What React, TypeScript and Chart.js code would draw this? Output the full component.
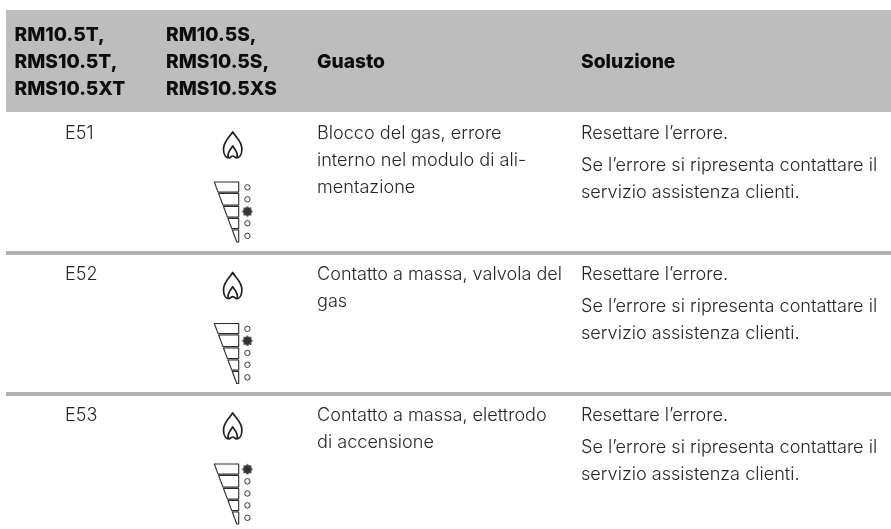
import React, { useEffect, useRef } from "react";
import { Chart, registerables } from "chart.js";

Chart.register(...registerables);

const headerColumns = [
  ["RM10.5T,", "RMS10.5T,", "RMS10.5XT"],
  ["RM10.5S,", "RMS10.5S,", "RMS10.5XS"],
  ["Guasto"],
  ["Soluzione"],
];
const codes = ["E51", "E52", "E53"];
const faults = [
  ["Blocco del gas, errore", "interno nel modulo di ali-", "mentazione"],
  ["Contatto a massa, valvola del", "gas"],
  ["Contatto a massa, elettrodo", "di accensione"],
];
const solutionFirst = ["Resettare l\u2019errore.", "Resettare l\u2019errore.", "Resettare l\u2019errore."];
const solutionRest = [
  ["Se l\u2019errore si ripresenta contattare il", "servizio assistenza clienti."],
  ["Se l\u2019errore si ripresenta contattare il", "servizio assistenza clienti."],
  ["Se l\u2019errore si ripresenta contattare il", "servizio assistenza clienti."],
];
// index of the lit LED in each row, 0 = top of the wedge
const litLevel = [2, 1, 0];
const ledLevels = [0, 1, 2, 3, 4];

// layout, in page pixels
const W = 891;
const H = 529;
const colX = [14.5, 166, 317, 581];
const codeX = 65;
const rowBase = [139, 280, 421];
const flameTop = [131, 271.7, 412];
const wedgeTop = [182, 323.5, 464];
const rules = [[251, 255], [392, 396]];
const headerBand = [10, 112];
const ledOffsets = [5.3, 17.3, 29.5, 41.3, 53.8];
const wedgeOffsets = [0, 11.5, 24.5, 36.5, 48, 60];
const BODY = '300 18.1px Inter, sans-serif';
const HEAD = '800 19.2px Inter, sans-serif';

function makeBurst(): HTMLCanvasElement {
  const c = document.createElement("canvas");
  c.width = 12;
  c.height = 12;
  const g = c.getContext("2d")!;
  g.fillStyle = "#333";
  g.beginPath();
  for (let i = 0; i < 16; i++) {
    const r = i % 2 === 0 ? 5.6 : 4.0;
    const a = (i * Math.PI) / 8;
    g.lineTo(6 + r * Math.cos(a), 6 + r * Math.sin(a));
  }
  g.closePath();
  g.fill();
  return c;
}

const tablePlugin = {
  id: "table",
  beforeDatasetsDraw(chart: any) {
    const { ctx, scales } = chart;
    const X = (v: number) => scales.x.getPixelForValue(v);
    const Y = (v: number) => scales.y.getPixelForValue(v);
    ctx.save();
    ctx.fillStyle = "#bdbdbd";
    ctx.fillRect(X(6), Y(headerBand[0]), X(W) - X(6), Y(headerBand[1]) - Y(headerBand[0]));
    ctx.fillStyle = "#b2b2b2";
    rules.forEach(([a, b]) => ctx.fillRect(X(6), Y(a), X(W) - X(6), Y(b) - Y(a)));

    ctx.textBaseline = "alphabetic";
    ctx.textAlign = "left";
    ctx.fillStyle = "#0c0c0c";
    ctx.font = HEAD;
    headerColumns.forEach((lines, c) => {
      const start = lines.length === 3 ? 41 : 68;
      lines.forEach((t, i) => ctx.fillText(t, X(colX[c]), Y(start + i * 27)));
    });

    ctx.fillStyle = "#262626";
    ctx.font = BODY;
    codes.forEach((code, r) => {
      const b = rowBase[r];
      ctx.fillText(code, X(codeX), Y(b));
      faults[r].forEach((t, i) => ctx.fillText(t, X(colX[2]), Y(b + i * 26.8)));
      ctx.fillText(solutionFirst[r], X(colX[3]), Y(b));
      solutionRest[r].forEach((t, i) => ctx.fillText(t, X(colX[3]), Y(b + 32 + i * 27)));

      // flame
      const fx = X(232.7);
      const fy = Y(flameTop[r]);
      ctx.strokeStyle = "#1e1e1e";
      ctx.lineWidth = 1.7;
      ctx.lineJoin = "round";
      ctx.beginPath();
      ctx.moveTo(fx, fy + 0.8);
      ctx.bezierCurveTo(fx + 2.5, fy + 5.5, fx + 9.2, fy + 10, fx + 9.2, fy + 18);
      ctx.bezierCurveTo(fx + 9.2, fy + 24, fx + 6.5, fy + 27, fx + 3.5, fy + 27);
      ctx.bezierCurveTo(fx + 2, fy + 25.8, fx + 1, fy + 25, fx, fy + 25);
      ctx.bezierCurveTo(fx - 1, fy + 25, fx - 2, fy + 25.8, fx - 3.5, fy + 27);
      ctx.bezierCurveTo(fx - 6.5, fy + 27, fx - 9.2, fy + 24, fx - 9.2, fy + 18);
      ctx.bezierCurveTo(fx - 9.2, fy + 10, fx - 2.5, fy + 5.5, fx, fy + 0.8);
      ctx.closePath();
      ctx.stroke();
      ctx.beginPath();
      ctx.moveTo(fx - 4.4, fy + 26.3);
      ctx.bezierCurveTo(fx - 6, fy + 22, fx - 2, fy + 18, fx, fy + 15);
      ctx.bezierCurveTo(fx + 2, fy + 18, fx + 6, fy + 22, fx + 4.4, fy + 26.3);
      ctx.stroke();

      // wedge segments
      const top = wedgeTop[r];
      const right = 238.7;
      const left = (o: number) => 214.3 + (o / 60) * 22.5;
      ctx.lineWidth = 1.1;
      ledLevels.forEach((l) => {
        const a = wedgeOffsets[l];
        const e = wedgeOffsets[l + 1];
        const gap = l === 4 ? 0 : 1.4;
        ctx.strokeStyle = "#2b2b2b";
        ctx.beginPath();
        ctx.moveTo(X(right), Y(top + a));
        ctx.lineTo(X(left(a)), Y(top + a));
        ctx.lineTo(X(left(e - gap)), Y(top + e - gap));
        ctx.lineTo(X(right), Y(top + e - gap));
        ctx.closePath();
        ctx.stroke();
      });
    });
    ctx.restore();
  },
};

export default function App() {
  const ref = useRef<HTMLCanvasElement>(null);
  useEffect(() => {
    document.body.style.margin = "0";
    document.body.style.background = "#fff";
    const burst = makeBurst();
    const off: { x: number; y: number }[] = [];
    const lit: { x: number; y: number }[] = [];
    litLevel.forEach((on, r) => {
      ledLevels.forEach((l) => {
        const p = { x: 247.4, y: wedgeTop[r] + ledOffsets[l] };
        (l === on ? lit : off).push(p);
      });
    });
    const chart = new Chart(ref.current!, {
      type: "scatter",
      data: {
        datasets: [
          {
            data: off,
            pointStyle: "circle",
            pointRadius: 2.7,
            pointBorderWidth: 1,
            pointBorderColor: "#333",
            pointBackgroundColor: "#fff",
          },
          {
            data: lit,
            pointStyle: burst as any,
            pointRadius: 5,
          },
        ],
      },
      options: {
        responsive: false,
        animation: false,
        layout: { padding: 0, autoPadding: false },
        plugins: { legend: { display: false }, tooltip: { enabled: false } },
        scales: {
          x: { type: "linear", min: 0, max: W, display: false },
          y: { type: "linear", min: 0, max: H, reverse: true, display: false },
        },
      },
      plugins: [tablePlugin],
    });
    return () => chart.destroy();
  }, []);
  return <canvas ref={ref} width={W} height={H} style={{ display: "block" }} />;
}
